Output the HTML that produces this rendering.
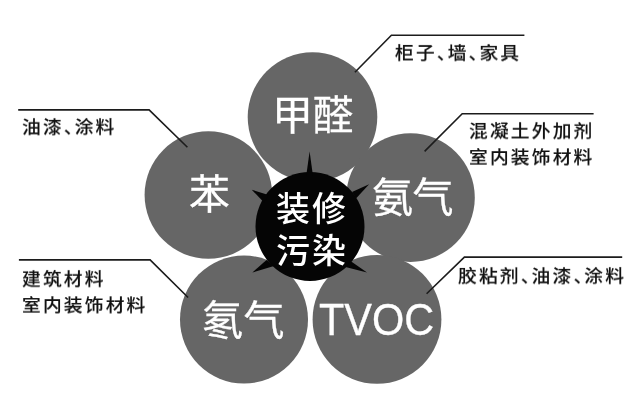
<!DOCTYPE html>
<html lang="zh-CN">
<head>
<meta charset="utf-8">
<title>装修污染</title>
<style>
html,body{margin:0;padding:0;background:#fff;}
body{width:640px;height:403px;position:relative;overflow:hidden;filter:blur(0.45px);font-family:"Liberation Sans","Noto Sans CJK SC",sans-serif;}
#art{position:absolute;left:0;top:0;width:640px;height:403px;display:block;}
.lbl,.big,.mid{will-change:transform;}
.lbl{position:absolute;white-space:nowrap;color:#111;font-size:18px;line-height:26.7px;letter-spacing:2.1px;font-weight:500;-webkit-text-stroke:0.12px #111;transform:scale(1.04,0.97);transform-origin:0 0;}
.lbl .p{letter-spacing:-7.6px;}
.big{position:absolute;white-space:nowrap;color:#fff;font-size:41px;line-height:40px;letter-spacing:0px;font-weight:400;-webkit-text-stroke:0.3px #fff;}
.mid{position:absolute;white-space:nowrap;color:#fff;font-size:34px;line-height:41.8px;letter-spacing:2px;font-weight:500;}
</style>
</head>
<body>
<svg id="art" width="640" height="403" viewBox="0 0 640 403">
  <rect width="640" height="403" fill="#ffffff"/>
  <g fill="#666666">
    <circle cx="312.5" cy="117" r="64.8"/>
    <circle cx="208.4" cy="195" r="63.8"/>
    <circle cx="410.5" cy="197.6" r="64.3"/>
    <circle cx="244" cy="319.6" r="64"/>
    <circle cx="377" cy="319.4" r="64.4"/>
  </g>
  <g fill="#050505">
    <circle cx="310" cy="226.5" r="54.5"/>
    <polygon points="306.2,176 309.6,151.6 313,176"/>
    <polygon points="268.5,195 251.8,189.8 264,202.5"/>
    <polygon points="352,192 369.1,184.3 356,198.5"/>
    <polygon points="266.5,260 252.4,272.5 274,266"/>
    <polygon points="350.5,261 367,272.5 345.5,267"/>
  </g>
  <g fill="none" stroke="#1c1c1c" stroke-width="1.6" stroke-linejoin="miter">
    <polyline points="524.4,35.2 391.4,35.2 354.9,72.2"/>
    <polyline points="18.2,109.9 149.1,109.9 187.4,147.2"/>
    <polyline points="593.6,113.7 462.2,113.7 424.6,151.4"/>
    <polyline points="18.9,259.9 150.1,259.9 188.1,297.5"/>
    <polyline points="622.2,257.1 464.4,257.1 426.6,293.8"/>
  </g>
</svg>

<div class="lbl" id="l1" style="left:394.6px;top:40.65px;">柜子<span class="p">、</span>墙<span class="p">、</span>家具</div>
<div class="lbl" id="l2" style="left:22px;top:114.65px;">油漆<span class="p">、</span>涂料</div>
<div class="lbl" id="l3" style="left:469px;top:119.35px;">混凝土外加剂<br>室内装饰材料</div>
<div class="lbl" id="l4" style="left:22.1px;top:267.15px;">建筑材料<br>室内装饰材料</div>
<div class="lbl" id="l5" style="left:458.30px;top:263.85px;">胶粘剂<span class="p">、</span>油漆<span class="p">、</span>涂料</div>

<div class="big" id="c1" style="left:272.3px;top:96.3px;letter-spacing:-0.4px;">甲醛</div>
<div class="big" id="c2" style="left:188.5px;top:174.5px;">苯</div>
<div class="big" id="c3" style="left:372.3px;top:178.2px;letter-spacing:-0.6px;">氨气</div>
<div class="big" id="c4" style="left:201.6px;top:301px;letter-spacing:0.5px;">氡气</div>
<div class="big" id="c5" style="left:318.9px;top:297.2px;font-size:41.5px;line-height:46px;letter-spacing:0px;transform:scaleY(1.05);transform-origin:50% 50%;-webkit-text-stroke:0.3px #fff;">TVOC</div>

<div class="mid" id="m1" style="left:276px;top:188.6px;">装修<br>污染</div>
</body>
</html>
